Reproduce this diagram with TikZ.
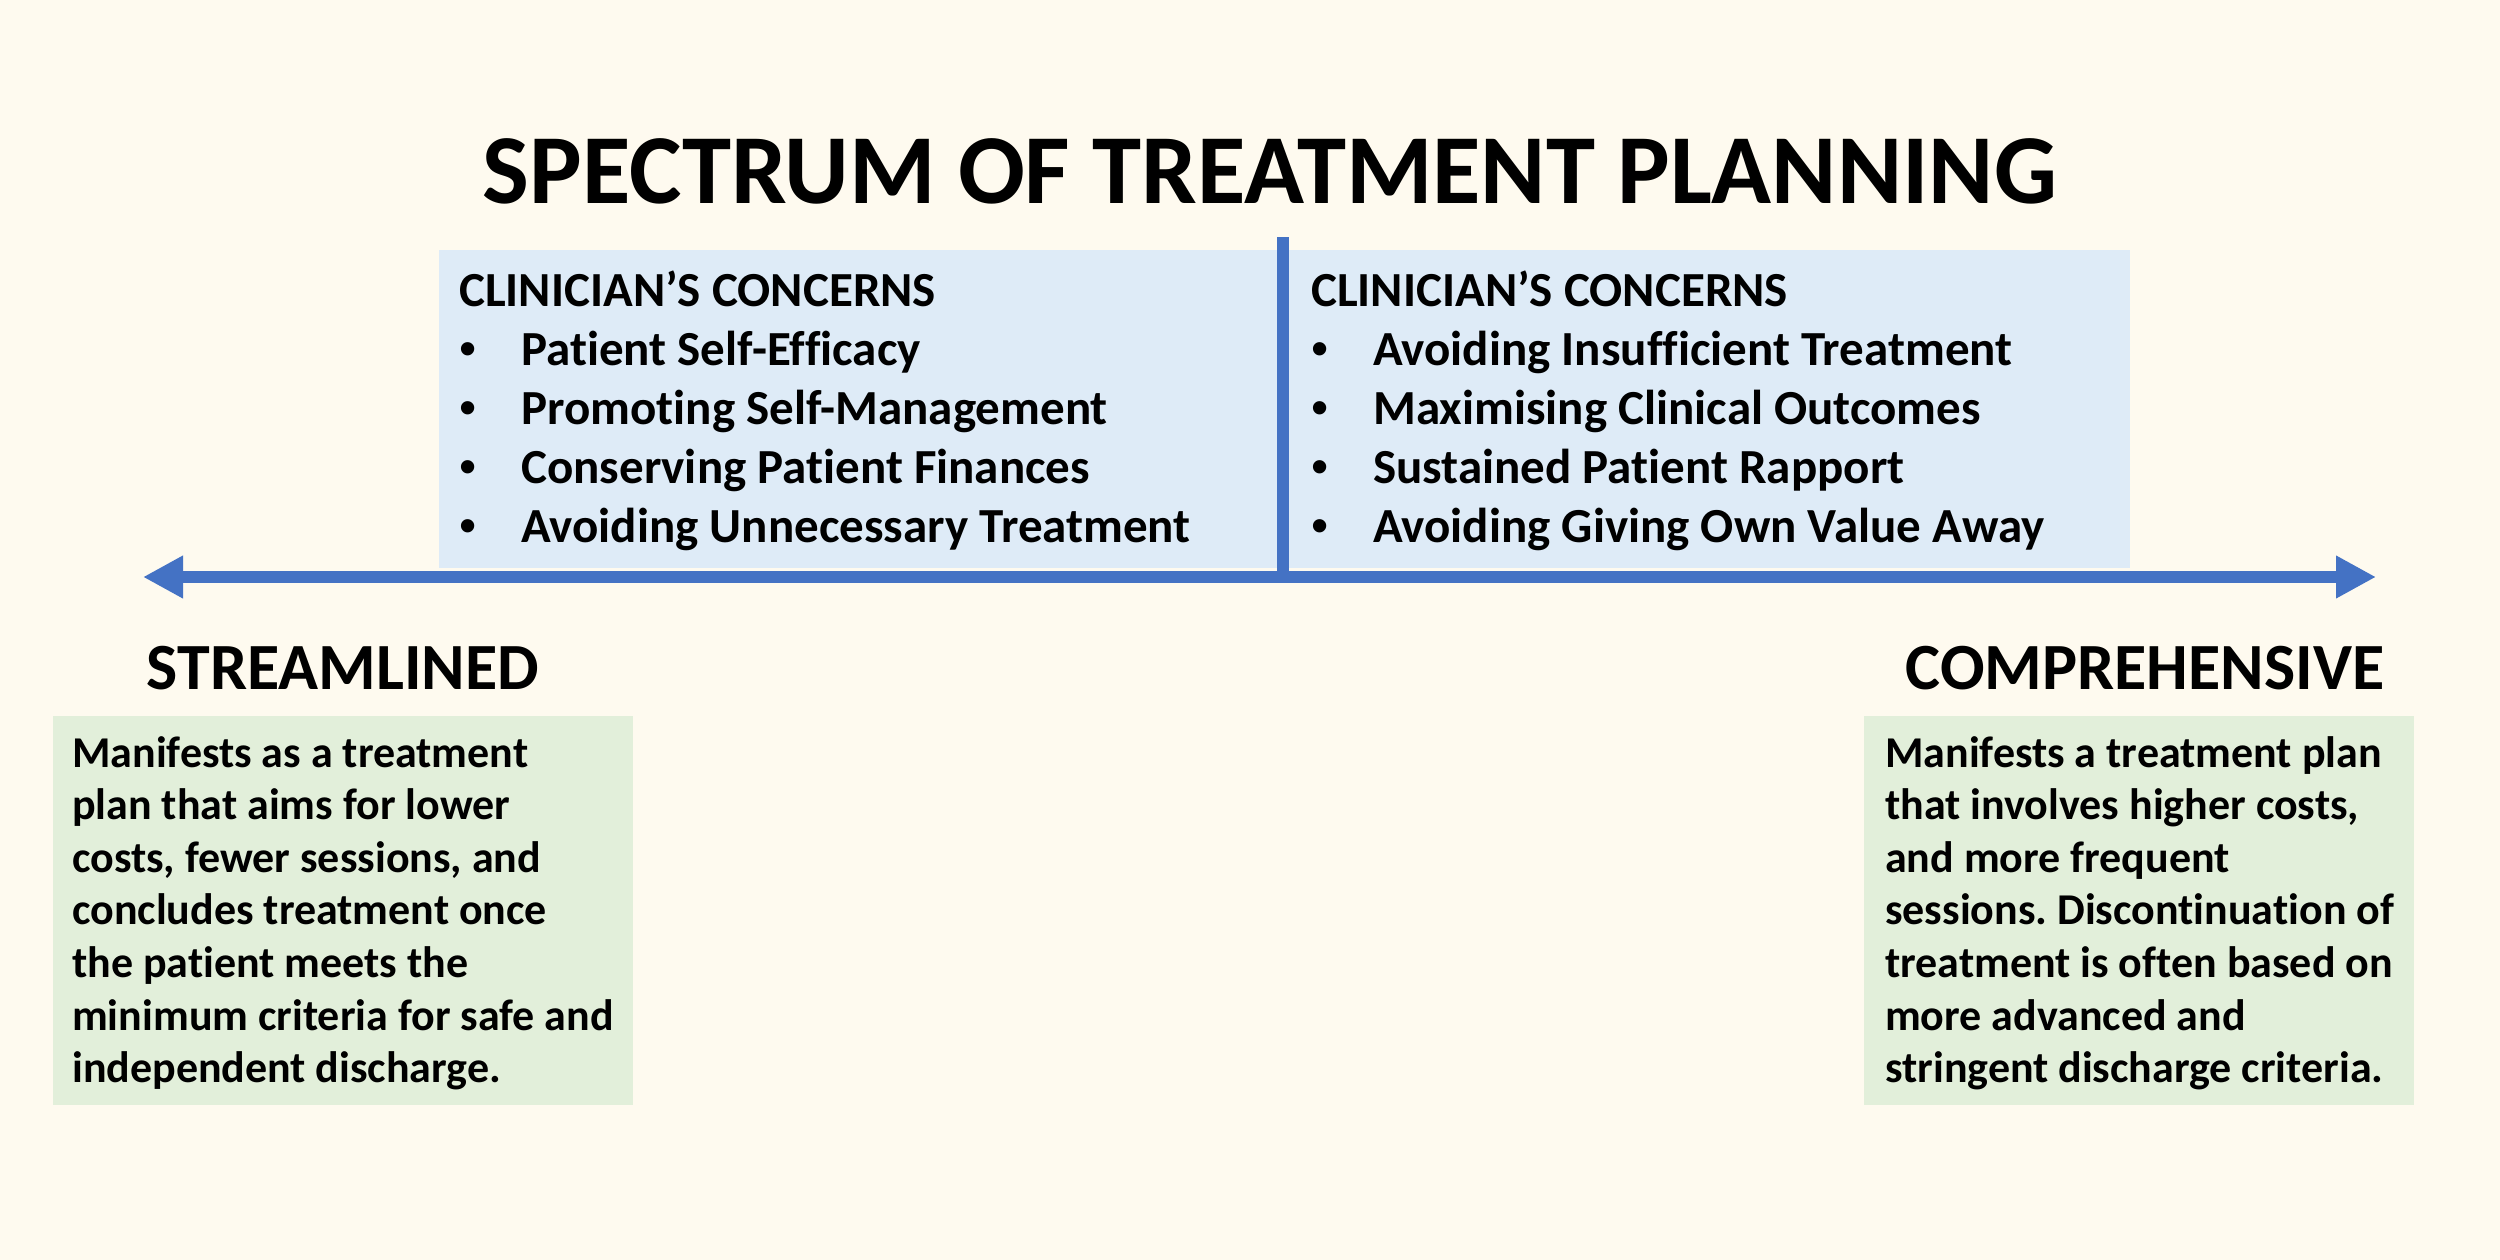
\documentclass[tikz,border=0pt]{standalone}
\usepackage{fontspec}
\setmainfont{Carlito}[Ligatures={NoCommon}]
\newfontfamily\bulletfont{Liberation Sans}
\usetikzlibrary{arrows.meta}
\frenchspacing
\definecolor{bgc}{HTML}{FEFAEF}
\definecolor{bluebox}{HTML}{DEEBF7}
\definecolor{greenbox}{HTML}{E2EFDA}
\definecolor{lineblue}{HTML}{4472C4}
\tikzset{
  btext/.style={anchor=base west, inner sep=0pt, font=\fontsize{49}{55}\selectfont\bfseries},
  bdot/.style={anchor=base west, inner sep=0pt, font=\fontsize{49}{55}\selectfont\bulletfont},
  gtext/.style={anchor=base west, inner sep=0pt, font=\fontsize{44}{50}\selectfont\bfseries},
  bigtitle/.style={anchor=base, inner sep=0pt, font=\fontsize{99}{110}\selectfont\bfseries},
  endlabel/.style={anchor=base, inner sep=0pt, font=\fontsize{66}{72}\selectfont\bfseries},
  axis/.style={line width=12pt, draw=lineblue},
}
\begin{document}
\begin{tikzpicture}[x=1pt,y=-1pt]
\fill[bgc] (0,0) rectangle (2500,1260);
\useasboundingbox (0,0) rectangle (2500,1260);
% boxes
\fill[bluebox] (439,250) rectangle (1283,568);
\fill[bluebox] (1283,250) rectangle (2130,568);
\fill[greenbox] (53,716) rectangle (633,1105);
\fill[greenbox] (1864,716) rectangle (2414,1105);
% title
\node[bigtitle] (title) at (1270,204) {SPECTRUM OF TREATMENT PLANNING};
% axis
\coordinate (L) at (143,577);
\coordinate (R) at (2376,577);
\coordinate (top) at (1283,237);
\coordinate (mid) at (1283,577);
\draw[axis, -{Triangle[length=40pt,width=40pt]}] (mid) -- (R);
\draw[axis, -{Triangle[length=40pt,width=40pt]}] (mid) -- (L);
\draw[axis] (top) -- (mid);
% left concerns
\node[btext] (lh) at (459,306) {CLINICIAN’S CONCERNS};
\foreach \t [count=\i] in {Patient Self-Efficacy, Promoting Self-Management, Conserving Patient Finances, Avoiding Unnecessary Treatment}{
  \node[bdot] (lb\i) at (459,{306.5+\i*59}) {•};
  \node[btext] (lt\i) at (521,{306.5+\i*59}) {\t};
}
% right concerns
\node[btext] (rh) at (1311,306) {CLINICIAN’S CONCERNS};
\foreach \t [count=\i] in {Avoiding Insufficient Treatment, Maximising Clinical Outcomes, Sustained Patient Rapport, Avoiding Giving Own Value Away}{
  \node[bdot] (rb\i) at (1311,{306.5+\i*59}) {•};
  \node[btext] (rt\i) at (1373,{306.5+\i*59}) {\t};
}
% end labels
\node[endlabel] (stream) at (343,689) {STREAMLINED};
\node[endlabel] (comp) at (2145,689) {COMPREHENSIVE};
% green texts
\foreach \t [count=\i] in {Manifests as a treatment, plan that aims for lower, {costs, fewer sessions, and}, concludes treatment once, the patient meets the, minimum criteria for safe and, independent discharge.}{
  \node[gtext] (g\i) at (72,{767+(\i-1)*52.6}) {\t};
}
\foreach \t [count=\i] in {Manifests a treatment plan, {that involves higher costs,}, and more frequent, sessions. Discontinuation of, treatment is often based on, more advanced and, stringent discharge criteria.}{
  \node[gtext] (h\i) at (1885,{767+(\i-1)*52.6}) {\t};
}
\end{tikzpicture}
\end{document}
